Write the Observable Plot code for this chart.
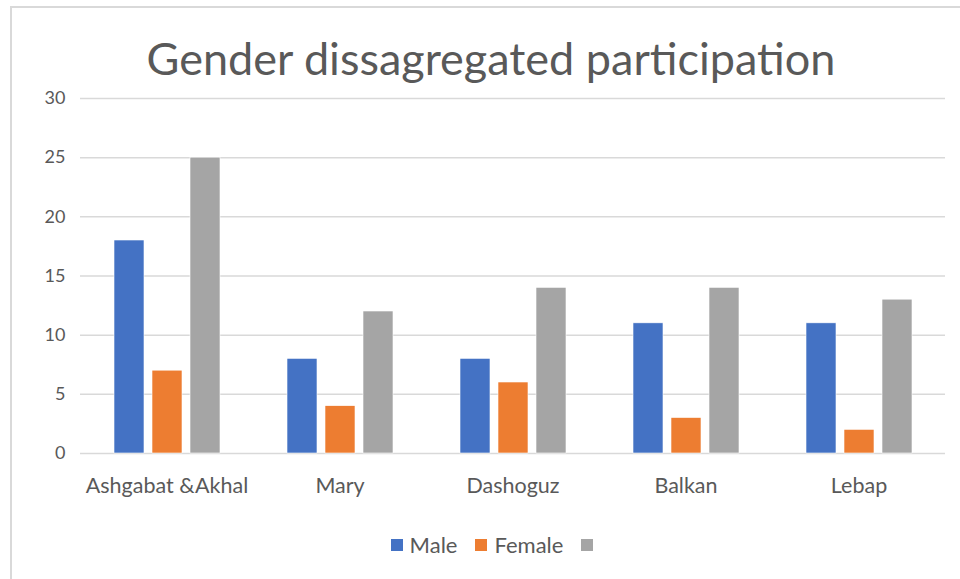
<!DOCTYPE html>
<html>
<head>
<meta charset="utf-8">
<script src="https://cdn.jsdelivr.net/npm/d3@7"></script>
<script src="https://cdn.jsdelivr.net/npm/@observablehq/plot@0.6"></script>
<style>
  html, body { margin: 0; padding: 0; background: #fff; }
  #wrap { position: relative; width: 960px; height: 579px; overflow: hidden; font-family: Lato, "Open Sans", sans-serif; color: #595959; }
  #frame { position: absolute; left: 10px; top: 6px; right: -5px; bottom: -5px; border-left: 2px solid #d9d9d9; border-top: 2px solid #d9d9d9; }
  #title { position: absolute; left: 0; top: 0; width: 982px; height: 70px; line-height: 116px; text-align: center; font-size: 45px; color: #595959; z-index: 2; }
  #chart { position: absolute; left: 0; top: 70px; }
  #legend { position: absolute; left: 12px; top: 531px; width: 960px; display: flex; justify-content: center; }
</style>
</head>
<body>
<div id="wrap">
  <div id="frame"></div>
  <div id="chart"></div>
  <div id="title">Gender dissagregated participation</div>
  <div id="legend"></div>
</div>
<script>
const regions = ["Ashgabat &Akhal", "Mary", "Dashoguz", "Balkan", "Lebap"];
const seriesNames = ["Male", "Female", "Series3"];
const seriesLabels = ["Male", "Female", ""];
const colors = ["#4472C4", "#ED7D31", "#A5A5A5"];
const male = [18, 8, 8, 11, 11];
const female = [7, 4, 6, 3, 2];
const series3 = [25, 12, 14, 14, 13];
const yTicks = [0, 5, 10, 15, 20, 25, 30];

const valuesBySeries = [male, female, series3];
const data = [];
regions.forEach((r, i) => {
  seriesNames.forEach((s, j) => {
    data.push({region: r, series: s, value: valuesBySeries[j][i]});
  });
});

const chart = Plot.plot({
  width: 960,
  height: 433,
  marginLeft: 78,
  marginRight: 13,
  marginTop: 28,
  marginBottom: 50,
  style: {fontFamily: "Lato, 'Open Sans', sans-serif", fontSize: "17px", color: "#595959", background: "transparent"},
  fx: {domain: regions, padding: 0, label: null},
  x: {domain: seriesNames, paddingInner: 0.22, paddingOuter: 0.867, axis: null},
  y: {domain: [0, 30], label: null},
  color: {domain: seriesNames, range: colors},
  marks: [
    Plot.ruleY(yTicks, {y: d => d, stroke: "#d9d9d9", strokeWidth: 1.5}),
    Plot.barY(data, {fx: "region", x: "series", y: "value", fill: "series", stroke: "white", strokeWidth: 0.6}),
    Plot.axisY(yTicks, {tickSize: 0, tickPadding: 15, fontSize: 18, label: null}),
    Plot.axisFx({anchor: "bottom", tickSize: 0, tickPadding: 24, fontSize: 21.5, label: null})
  ]
});
document.getElementById("chart").appendChild(chart);

const legendRow = document.getElementById("legend");
seriesLabels.forEach((label, j) => {
  const item = document.createElement("div");
  item.style.cssText = "display:flex;align-items:center;margin:0 9px;font-size:22px;color:#595959;";
  const sw = document.createElement("span");
  sw.style.cssText = `display:inline-block;width:12px;height:12px;background:${colors[j]};margin-right:${label ? 7 : 0}px;`;
  item.appendChild(sw);
  if (label) {
    const t = document.createElement("span");
    t.textContent = label;
    item.appendChild(t);
  }
  legendRow.appendChild(item);
});
</script>
</body>
</html>
